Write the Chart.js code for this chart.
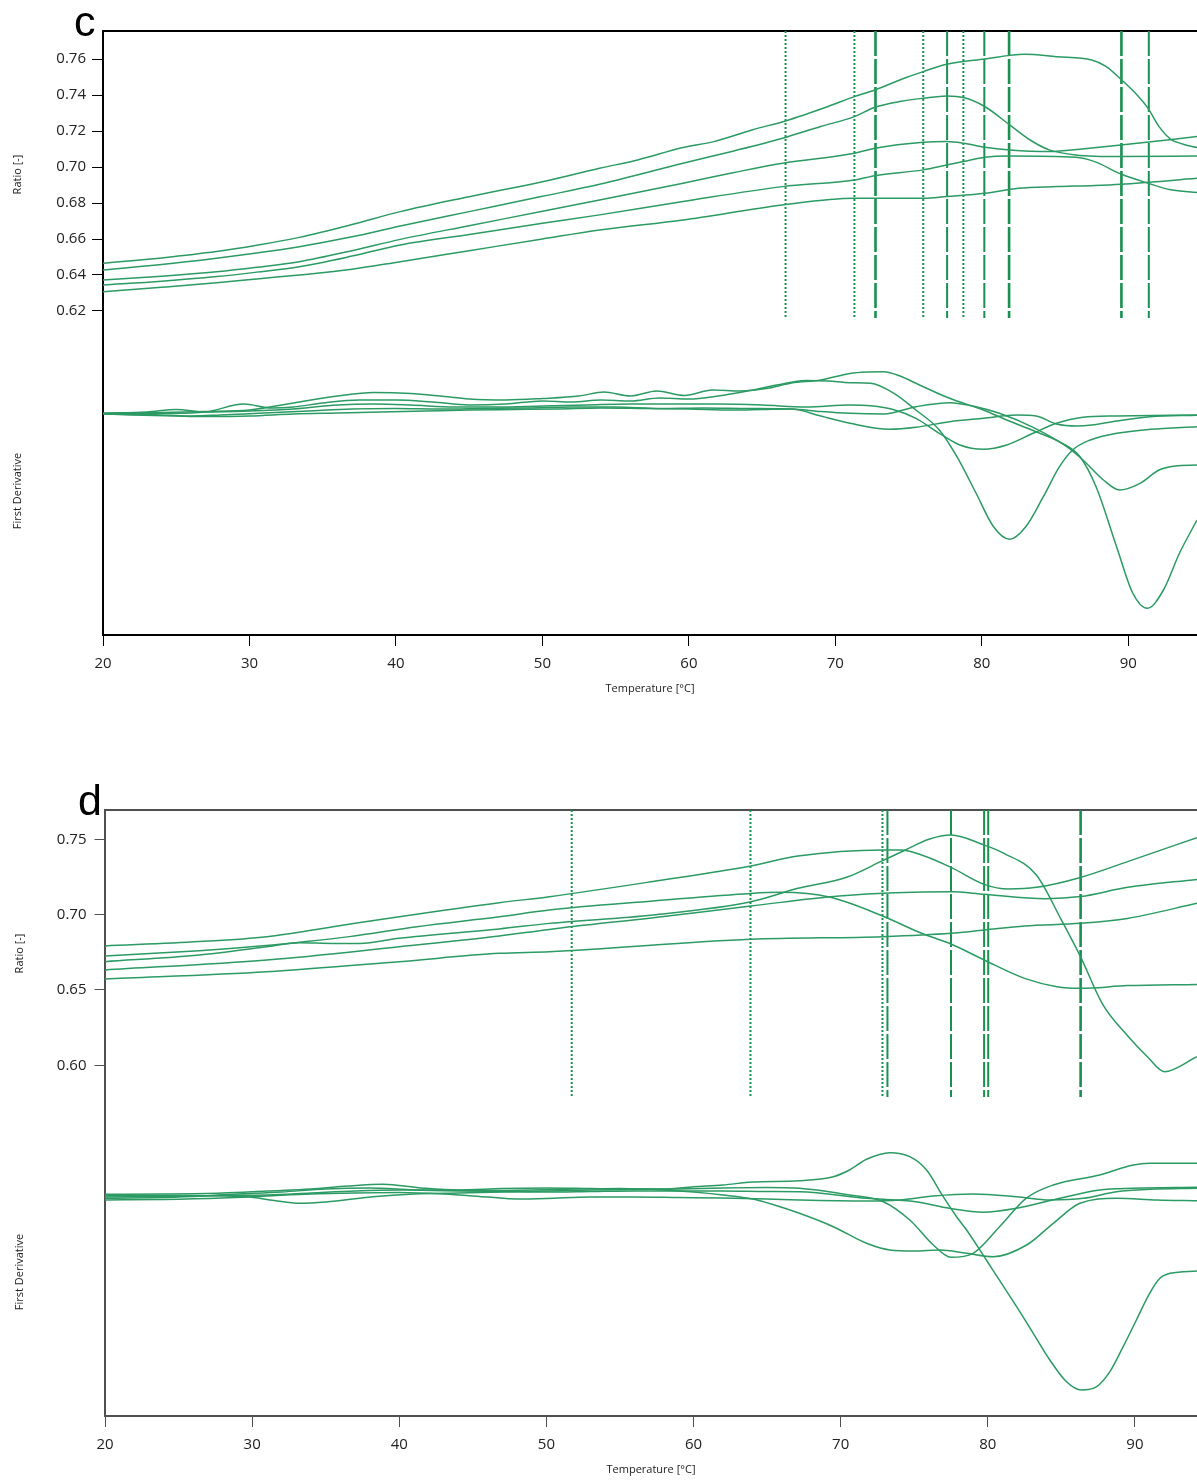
<!DOCTYPE html>
<html>
<head>
<meta charset="utf-8">
<script src="https://cdn.jsdelivr.net/npm/chart.js@4/dist/chart.umd.min.js"></script>
<style>
html,body{margin:0;padding:0;background:#fff;}
body{width:1197px;height:1481px;position:relative;overflow:hidden;font-family:'Open Sans',sans-serif;}
.panel{position:absolute;left:0;width:1197px;height:700px;}
#panelC{top:0;}
#panelD{top:781px;}
.letter{position:absolute;font-family:'Liberation Sans',Arial,sans-serif;font-size:43px;line-height:43px;color:#000;z-index:2;}
</style>
</head>
<body>
<div class="panel" id="panelC"><canvas id="chartC" width="1197" height="700"></canvas></div>
<div class="panel" id="panelD"><canvas id="chartD" width="1197" height="700"></canvas></div>
<div class="letter" style="left:74px;top:0px;">c</div>
<div class="letter" style="left:78px;top:779px;">d</div>
<script>
// ---------------- DATA : panel c ----------------
const xTickLabels = [20, 30, 40, 50, 60, 70, 80, 90];
const cRatioTicks = [0.62, 0.64, 0.66, 0.68, 0.70, 0.72, 0.74, 0.76];

const cRatioA = [[20,0.6465],[24,0.6495],[27.75,0.653],[30.5,0.6565],[33.4,0.6609],[37,0.668],[40.3,0.6752],[45,0.6835],[50,0.6918],[53.9,0.6993],[56.5,0.7039],[59.6,0.7108],[61.7,0.7141],[64.3,0.7206],[66.6,0.7256],[69.5,0.7336],[71.3,0.7391],[72.7,0.7428],[74.7,0.7493],[76,0.753],[77.6,0.7571],[80.2,0.76],[82.9,0.7626],[85.1,0.7613],[87.5,0.7595],[88.5,0.7558],[89.5,0.7487],[90.6,0.74],[91.35,0.7326],[92.1,0.7224],[92.9,0.7154],[93.7,0.7128],[94.69,0.7108]];
const cRatioB = [[20,0.6428],[24,0.6458],[27.75,0.6493],[30.5,0.6522],[33.4,0.6557],[37,0.6612],[40.3,0.6672],[45,0.6752],[50,0.6837],[53.9,0.6904],[59.6,0.7021],[63,0.7088],[66.4,0.716],[69,0.7225],[71.3,0.728],[72.7,0.7332],[74.5,0.7365],[76,0.7382],[77.6,0.7395],[78.75,0.7386],[80.2,0.7336],[81.9,0.7234],[83.3,0.715],[84.6,0.7095],[86.4,0.7067],[89.5,0.7058],[94.69,0.7061]];
const cRatioC = [[20,0.6372],[24,0.6393],[27.75,0.6418],[30.5,0.6443],[33.4,0.6474],[37,0.6535],[40.3,0.6598],[45,0.6674],[50,0.6754],[53.9,0.6817],[59.6,0.691],[63,0.6968],[66.4,0.7021],[71.3,0.7076],[72.7,0.7104],[76,0.7137],[77.6,0.7141],[78.75,0.7132],[80.2,0.711],[81.9,0.7095],[84.6,0.7086],[87,0.7102],[89.5,0.7122],[94.69,0.7169]];
const cRatioD = [[20,0.6344],[24,0.6365],[27.75,0.6391],[30.5,0.6416],[33.4,0.6446],[37,0.6505],[40.3,0.6567],[45,0.6625],[50,0.6687],[53.9,0.6734],[59.6,0.6808],[66.4,0.6891],[71.3,0.6928],[72.7,0.6952],[76,0.6984],[77.6,0.7011],[78.75,0.703],[80.2,0.7054],[81.9,0.7061],[86.4,0.7054],[87.7,0.703],[89.5,0.6961],[91.35,0.691],[92.9,0.6873],[94.69,0.6858]];
const cRatioE = [[20,0.6307],[24,0.6332],[27.75,0.6357],[30.5,0.6378],[33.4,0.64],[37,0.6432],[40.3,0.6474],[45,0.6535],[50,0.66],[53.9,0.665],[59.6,0.6706],[66.4,0.6789],[71.3,0.6826],[76,0.6826],[77.6,0.6836],[80.2,0.6854],[82.5,0.6882],[85.1,0.6891],[87.7,0.6897],[89.5,0.6904],[94.69,0.6937]];

// first derivative (arbitrary units)
const cDerivA = [[20,-0.5],[24,0.5],[27,1.5],[30,3],[33,10],[36,17],[38.5,20.5],[41,19.5],[43,17],[45,14],[47.5,13],[50,14.5],[52.5,17],[54.2,21],[56,17],[57.8,22],[59.7,17.5],[61.6,23],[63.5,22],[65.5,25],[67,30],[69,33],[71,39.5],[72.3,41],[73.3,41.3],[74.5,36.5],[75.5,29.7],[77.8,14.7],[80.1,3],[81.7,-7],[83.7,-18.7],[85.5,-30.3],[86.7,-43.7],[87.8,-73.7],[89.2,-133.7],[90.3,-180],[91.3,-195.3],[92.4,-177],[93.5,-140],[94.69,-107]];
const cDerivB = [[20,-1],[24,-0.5],[27,1],[29.6,9],[31.5,5],[33,6],[35,10],[37.5,13],[40,13],[42.5,11],[45,8],[47.5,9],[50,12],[52,11],[54,13],[56,12],[58,15],[60,14],[62,17],[64,22],[66,28],[68,32.5],[69.5,32],[71,30.3],[72.4,29.7],[74,19.7],[75.5,3],[77.1,-17],[78.3,-43.7],[79.6,-80],[80.8,-113.7],[81.9,-126.3],[83,-113.7],[84.2,-83.7],[85.3,-53.7],[86.2,-37],[87.4,-27],[89.2,-20.3],[91.5,-16.3],[94.69,-13.7]];
const cDerivC = [[20,0],[23,1],[25,3.5],[27,1],[30,2],[33,4],[36,8],[38.5,9],[41,8],[44,6],[47,6],[50,7],[53,8],[56,9],[59,9],[62,9],[65,8],[68,6],[71,8],[72.4,7.3],[74,3.3],[75.5,-5.3],[77.1,-20.3],[78.5,-32],[80.1,-36.3],[81.7,-32],[83.5,-20.3],[85.1,-10.3],[86.9,-4.3],[89.2,-3],[94.69,-2]];
const cDerivD = [[20,-1],[23,-1.5],[26,-3],[28,-2],[31,0],[34,2],[37,4],[40,4.5],[43,4],[46,4.5],[49,5],[52,6],[55,6],[58,4.5],[61,5],[64,4.5],[67,4],[69,1.5],[71,-0.3],[73.3,-1],[75.5,6.3],[77.8,10.3],[79.6,6.3],[81.2,-0.3],[83.5,-14.3],[85.8,-33.7],[86.9,-47],[88.3,-67],[89.4,-77],[90.8,-70.3],[92.1,-57],[93.2,-53],[94.69,-52]];
const cDerivE = [[20,-1],[22,-2],[25,-3],[27,-3.5],[30,-3],[33,-1],[36,0],[39,1],[42,2],[45,3],[48,3.5],[51,4],[54,5],[57,4.5],[60,4],[63,3],[65,3.5],[67,4],[69,-3],[71,-10.3],[73.7,-16.3],[75.5,-14.3],[77.8,-8.7],[80.1,-5.3],[82.4,-2],[83.7,-3],[85.1,-11],[86.5,-13],[87.5,-12],[89.2,-8],[91.5,-3.7],[94.69,-2.3]];

const cDotted = [66.6, 71.3, 76.0, 78.74];
const cDashedBold = [72.74, 81.86, 89.53];
const cDashed = [77.63, 80.17, 91.4];

// ---------------- DATA : panel d ----------------
const dRatioTicks = [0.60, 0.65, 0.70, 0.75];

const dRatioA = [[20,0.6792],[26.4,0.6821],[31,0.6854],[35.5,0.692],[40,0.6986],[46.8,0.7079],[50.2,0.7119],[57.25,0.722],[63.9,0.7323],[67.1,0.7389],[72.85,0.7429],[74.1,0.7429],[75.5,0.7396],[77.5,0.7314],[79.75,0.7201],[81.4,0.717],[83.3,0.7181],[86.3,0.7247],[89.5,0.7352],[94.22,0.7511]];
const dRatioB = [[20,0.6688],[26.4,0.6732],[31.4,0.6792],[33.2,0.6814],[35.5,0.6809],[37.3,0.6809],[40,0.6843],[46.8,0.6905],[50.2,0.6942],[57.25,0.6998],[63.9,0.7086],[67.1,0.7175],[70.4,0.7248],[72.85,0.7358],[74.4,0.7429],[76,0.75],[77.5,0.7528],[79.75,0.7462],[81.1,0.7407],[83.3,0.7263],[85,0.6965],[86.3,0.6721],[87.8,0.6406],[89.5,0.6196],[90.9,0.6052],[92.0,0.5958],[94.22,0.6057]];
const dRatioC = [[20,0.6725],[26.4,0.6761],[31.4,0.6798],[33.2,0.6816],[36.6,0.6854],[41.2,0.692],[46.8,0.6986],[50.2,0.7031],[57.25,0.709],[63.9,0.7141],[65.9,0.7148],[69.3,0.7115],[72.85,0.6991],[75.5,0.6876],[77.5,0.6805],[79.75,0.6699],[82.5,0.6577],[84.7,0.6522],[86.3,0.6511],[89.5,0.6529],[94.22,0.6537]];
const dRatioD = [[20,0.6633],[31,0.6699],[40,0.6787],[46.8,0.6858],[50.2,0.6902],[57.25,0.698],[63.9,0.7057],[69.9,0.7124],[77.5,0.7152],[79.75,0.7135],[83.9,0.7106],[86.3,0.712],[89.5,0.7181],[94.22,0.7234]];
const dRatioE = [[20,0.6573],[31,0.6621],[40,0.6688],[46.8,0.6743],[50.2,0.6754],[63.9,0.6836],[72.85,0.6854],[77.5,0.6876],[79.75,0.6898],[82.5,0.6925],[86.3,0.6942],[89.5,0.6975],[94.22,0.7075]];

const dDerivA = [[20,1.7],[24,2],[28,3],[31,5],[34,7],[36.5,10],[38.9,11.7],[41.5,8],[44,6],[47,7.5],[50,8],[53,7.5],[56,7],[58,7],[60,9.3],[62,11],[64,14],[67.2,15.3],[69.5,19.3],[70.6,26],[71.76,36.7],[73.35,43.3],[74.7,39.3],[75.84,26],[76.97,-0.7],[77.88,-20.7],[78.56,-34],[79.9,-64],[81.96,-110.7],[83.09,-137.3],[84.22,-164],[85.35,-185.7],[86.37,-194],[87.4,-190.7],[88.3,-175.7],[89.2,-150.7],[90.1,-124],[91.0,-97.3],[91.7,-82.3],[92.4,-77.3],[94.22,-75]];
const dDerivB = [[20,-1],[24,-0.5],[28,0.5],[31,1],[34,3],[37,5],[40,6],[43,6],[46,5.5],[49,6],[52,7],[55,7.5],[58,6],[60,4],[62,1],[64,-3],[65.5,-9],[67.2,-17.3],[69.5,-30.7],[71.76,-47.3],[73.35,-54],[75,-55],[76.75,-54],[78.56,-57.3],[80.37,-60.7],[82.64,-49],[84.45,-27.3],[86.26,-7.3],[88.75,-2.3],[91.5,-4],[94.22,-4.7]];
const dDerivC = [[20,0.3],[25,0.5],[29.6,-0.7],[31.5,-4.5],[33.2,-7.3],[35,-6],[38.2,-0.7],[41,2],[44,3],[47,4],[50,5],[53,6],[56,6.5],[59,7],[62,8],[65,8.5],[67.2,7.7],[70.6,1],[72.9,-5.7],[74.7,-24],[76.3,-49],[77.5,-61.3],[79.0,-57.3],[80.8,-30.7],[82.6,-2.3],[84.45,11],[87.6,21],[89.9,31],[91.0,32.7],[94.22,32.7]];
const dDerivD = [[20,-2.3],[25,-1],[29,2],[32,4],[35,7],[38,8],[41,6],[44,5],[47,4.5],[50,4],[53,4.5],[56,5],[59,5],[62,5],[65,4.5],[67.2,4.3],[71.76,-2.3],[75.1,-5.7],[77.4,-12.3],[79.7,-16.3],[81.96,-12.3],[84.9,-2.3],[87.6,6],[89.9,7.7],[94.22,8.7]];
const dDerivE = [[20,-4],[24,-3.5],[28,-2],[31,0],[34,2],[37,3],[40,3.5],[43,2],[46,-1],[48,-3],[50,-2.5],[53,-1],[56,-1],[59,-1.5],[62,-2],[65,-3],[67.2,-4],[71.76,-5],[74,-4],[76.3,0],[79,2],[81.96,-0.7],[84.2,-4],[86.5,-2.3],[88.75,4.3],[91,6.7],[94.22,7.7]];

const dDotted = [51.72, 63.87, 72.84];
const dDashedBold = [86.31];
const dDashed = [73.18, 77.5, 79.75, 80.03];

// ---------------- drawing ----------------
const CURVE = '#2b9a63';
const VLINE = '#19904f';

function pts(a) { return a.map(p => ({x: p[0], y: p[1]})); }

function buildPanel(canvasId, p) {
  const ds = [];
  p.ratio.forEach(s => ds.push({data: pts(s), xAxisID: 'x', yAxisID: 'ratio', borderColor: CURVE, borderWidth: 1.5, pointRadius: 0, cubicInterpolationMode: 'monotone', fill: false}));
  p.deriv.forEach(s => ds.push({data: pts(s), xAxisID: 'x', yAxisID: 'deriv', borderColor: CURVE, borderWidth: 1.5, pointRadius: 0, cubicInterpolationMode: 'monotone', fill: false}));
  const vline = (t, dash, w) => ds.push({data: [{x: t, y: p.rMax}, {x: t, y: p.rMin}], xAxisID: 'x', yAxisID: 'ratio', borderColor: VLINE, borderWidth: w, borderDash: dash, pointRadius: 0, tension: 0, fill: false});
  p.dotted.forEach(t => vline(t, [2, 2], 2));
  p.dashedBold.forEach(t => vline(t, [25, 3], 2.6));
  p.dashed.forEach(t => vline(t, [25, 3], 2));

  const ax = p.axisColor;
  const tickFont = {family: "'Open Sans', sans-serif", size: 15};
  const titleFont = {family: "'Open Sans', sans-serif", size: 11};
  const fixW = s => { s.width = p.left; };

  new Chart(document.getElementById(canvasId), {
    type: 'line',
    data: {datasets: ds},
    options: {
      responsive: false, animation: false, events: [],
      plugins: {legend: {display: false}, tooltip: {enabled: false}},
      layout: {padding: {top: p.top, left: 0, right: 0, bottom: 0}},
      scales: {
        x: {
          type: 'linear', position: 'bottom', min: 20, max: p.xMax,
          afterBuildTicks: s => { s.ticks = xTickLabels.map(v => ({value: v})); },
          ticks: {font: tickFont, color: '#222', padding: 9, maxRotation: 0, autoSkip: false, callback: v => String(v)},
          grid: {drawOnChartArea: false, drawTicks: true, tickLength: 11, color: ax, lineWidth: 1},
          border: {display: true, color: ax, width: 2},
          title: {display: true, text: 'Temperature [°C]', font: titleFont, color: '#222', padding: {top: 0, bottom: 4.4}},
          afterFit: s => { s.height = 65; }
        },
        xTop: {
          type: 'linear', position: 'top', min: 20, max: p.xMax,
          ticks: {display: false}, grid: {display: false},
          border: {display: true, color: ax, width: 2},
          afterFit: s => { s.height = 0; }
        },
        ratio: {
          type: 'linear', position: 'left', stack: 'left', stackWeight: p.wRatio, weight: 3,
          min: p.rMin, max: p.rMax,
          afterBuildTicks: s => { s.ticks = p.rTicks.map(v => ({value: v})); },
          ticks: {font: tickFont, color: '#222', padding: p.tickPad, callback: v => Number(v).toFixed(2)},
          grid: {drawOnChartArea: false, drawTicks: true, tickLength: p.tickLen, color: ax, lineWidth: 1},
          border: {display: true, color: ax, width: 2},
          title: {display: true, text: 'Ratio [-]', font: titleFont, color: '#222', padding: {top: p.titlePad, bottom: 0}},
          afterFit: fixW
        },
        gap: {
          type: 'linear', position: 'left', stack: 'left', stackWeight: p.wGap, weight: 2,
          min: 0, max: 1,
          ticks: {display: false}, grid: {display: false},
          border: {display: true, color: ax, width: 2},
          afterFit: fixW
        },
        deriv: {
          type: 'linear', position: 'left', stack: 'left', stackWeight: p.wDeriv, weight: 1,
          min: p.dMin, max: p.dMax,
          ticks: {display: false}, grid: {display: false},
          border: {display: true, color: ax, width: 2},
          title: {display: true, text: 'First Derivative', font: titleFont, color: '#222', padding: {top: p.titlePad, bottom: 0}},
          afterFit: fixW
        }
      }
    }
  });
}

buildPanel('chartC', {
  ratio: [cRatioA, cRatioB, cRatioC, cRatioD, cRatioE],
  deriv: [cDerivA, cDerivB, cDerivC, cDerivD, cDerivE],
  dotted: cDotted, dashedBold: cDashedBold, dashed: cDashed,
  rTicks: cRatioTicks, rMin: 0.616111, rMax: 0.775556,
  dMin: -222, dMax: 66,
  xMax: 94.69, left: 103, top: 31,
  wRatio: 287, wGap: 29, wDeriv: 288,
  axisColor: '#000', tickPad: 6, tickLen: 11, titlePad: 11
});

buildPanel('chartD', {
  ratio: [dRatioA, dRatioB, dRatioC, dRatioD, dRatioE],
  deriv: [dDerivA, dDerivB, dDerivC, dDerivD, dDerivE],
  dotted: dDotted, dashedBold: dDashedBold, dashed: dDashed,
  rTicks: dRatioTicks, rMin: 0.57896, rMax: 0.769447,
  dMin: -220, dMax: 68,
  xMax: 94.22, left: 105, top: 29,
  wRatio: 287, wGap: 31, wDeriv: 288,
  axisColor: '#505050', tickPad: 8, tickLen: 10.5, titlePad: 13.4
});
</script>
</body>
</html>
